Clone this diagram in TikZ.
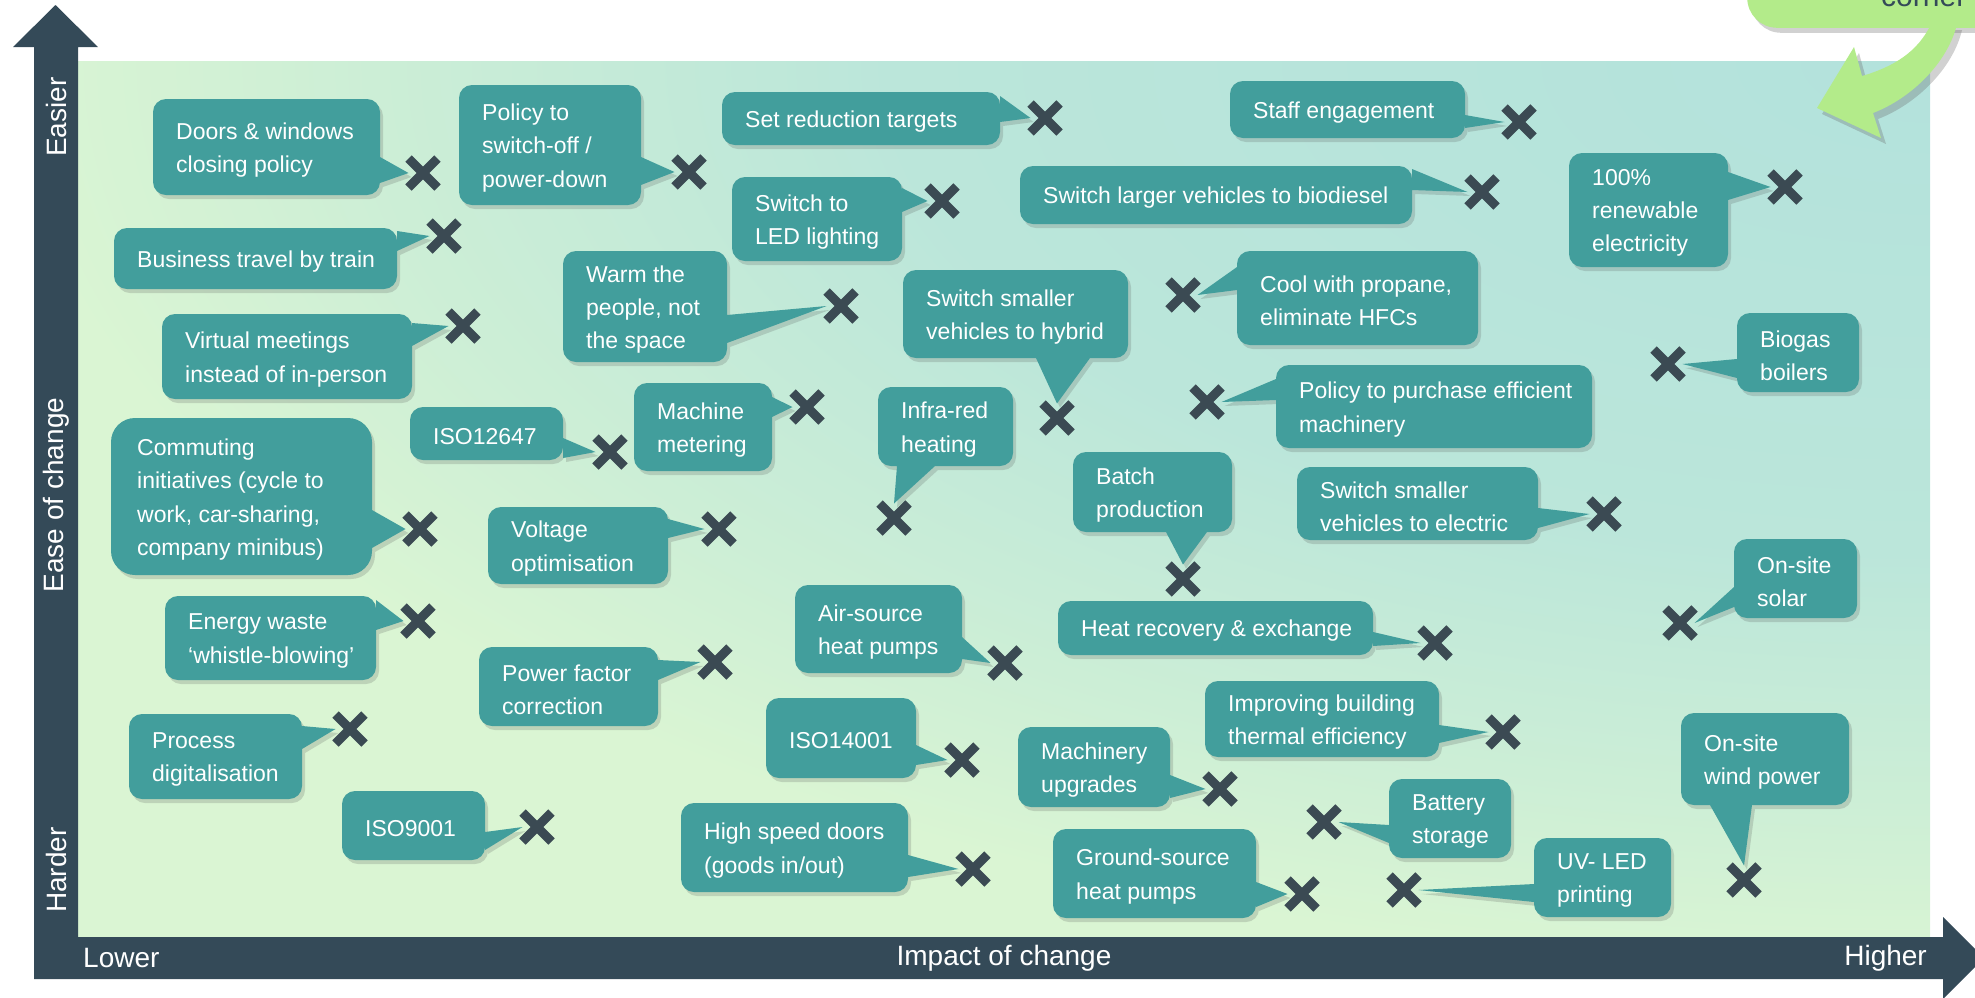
\documentclass[tikz,border=0pt]{standalone}
\usepackage{fontspec}
\setmainfont{Liberation Sans}
\usetikzlibrary{shapes.misc,shadows,backgrounds}
\definecolor{axiscol}{HTML}{344A58}
\definecolor{callcol}{HTML}{429E9C}
\definecolor{crosscol}{HTML}{3B4A53}
\definecolor{greencol}{HTML}{B3EB8A}
\definecolor{bgteal}{HTML}{B3E2DC}
\definecolor{bgmidA}{HTML}{BBE6DA}
\definecolor{bgmidB}{HTML}{CCEED6}
\definecolor{bggreen}{HTML}{DAF5D3}
\pgfdeclareradialshading{plotbg}{\pgfpointorigin}{%
  color(0bp)=(bgteal); color(14bp)=(bgmidA); color(21bp)=(bgmidB);
  color(26bp)=(bggreen); color(50bp)=(bggreen)}
\tikzstyle{callbox} = [rectangle, anchor=north west, inner sep=0pt, outer sep=0pt]
\tikzstyle{calltext} = [anchor=west, xshift=23pt, yshift=-3pt, inner sep=0pt,
    align=left, text=white, font=\fontsize{23}{33.3}\selectfont]
\tikzstyle{xmark} = [cross out, draw=crosscol, line width=9pt,
    minimum size=17pt, inner sep=0pt, outer sep=6pt]
\tikzstyle{bubble} = [fill=callcol, rounded corners=13pt,
    drop shadow={shadow xshift=3pt, shadow yshift=-4pt, opacity=.2, fill=black!70}]
\tikzstyle{axislabel} = [text=white, inner sep=0pt, font=\fontsize{28}{34}\selectfont]
\tikzstyle{cornerbox} = [rectangle, anchor=south west, fill=greencol, rounded corners=30pt,
    drop shadow={shadow xshift=4pt, shadow yshift=-5pt, opacity=.3, fill=black!60}]
\tikzstyle{greenarrow} = [fill=greencol,
    drop shadow={shadow xshift=5pt, shadow yshift=-6pt, opacity=.3, fill=black!60}]

\begin{document}
\begin{tikzpicture}[x=1pt, y=-1pt]
    \useasboundingbox (0,0) rectangle (1975,997);

    % Place nodes
    \node [callbox, minimum width=227pt, minimum height=96pt] (doors) at (153,99) {};
    \node [calltext] (doors-t) at (doors.west) {Doors \& windows\\closing policy};
    \node [xmark] (doorsx) at (423,173) {};

    \node [callbox, minimum width=182pt, minimum height=120pt] (offsw) at (459,85) {};
    \node [calltext] (offsw-t) at (offsw.west) {Policy to\\switch-off /\\power-down};
    \node [xmark] (offswx) at (689,172) {};

    \node [callbox, minimum width=278pt, minimum height=53pt] (targets) at (722,92) {};
    \node [calltext] (targets-t) at (targets.west) {Set reduction targets};
    \node [xmark] (targetsx) at (1045,118) {};

    \node [callbox, minimum width=235pt, minimum height=57pt] (staff) at (1230,81) {};
    \node [calltext] (staff-t) at (staff.west) {Staff engagement};
    \node [xmark] (staffx) at (1519,122) {};

    \node [callbox, minimum width=170pt, minimum height=84pt] (led) at (732,177) {};
    \node [calltext] (led-t) at (led.west) {Switch to\\LED lighting};
    \node [xmark] (ledx) at (942,201) {};

    \node [callbox, minimum width=392pt, minimum height=58pt] (biodiesel) at (1020,166) {};
    \node [calltext] (biodiesel-t) at (biodiesel.west) {Switch larger vehicles to biodiesel};
    \node [xmark] (biodieselx) at (1482,192) {};

    \node [callbox, minimum width=159pt, minimum height=114pt] (renew) at (1569,153) {};
    \node [calltext] (renew-t) at (renew.west) {100\%\\renewable\\electricity};
    \node [xmark] (renewx) at (1785,187) {};

    \node [callbox, minimum width=283pt, minimum height=61pt] (train) at (114,228) {};
    \node [calltext] (train-t) at (train.west) {Business travel by train};
    \node [xmark] (trainx) at (444,236) {};

    \node [callbox, minimum width=164pt, minimum height=111pt] (warm) at (563,251) {};
    \node [calltext] (warm-t) at (warm.west) {Warm the\\people, not\\the space};
    \node [xmark] (warmx) at (841,306) {};

    \node [callbox, minimum width=225pt, minimum height=88pt] (hybrid) at (903,270) {};
    \node [calltext] (hybrid-t) at (hybrid.west) {Switch smaller\\vehicles to hybrid};
    \node [xmark] (hybridx) at (1057,418) {};

    \node [callbox, minimum width=241pt, minimum height=94pt] (propane) at (1237,251) {};
    \node [calltext] (propane-t) at (propane.west) {Cool with propane,\\eliminate HFCs};
    \node [xmark] (propanex) at (1183,295) {};

    \node [callbox, minimum width=250pt, minimum height=85pt] (virtual) at (162,314) {};
    \node [calltext] (virtual-t) at (virtual.west) {Virtual meetings\\instead of in-person};
    \node [xmark] (virtualx) at (463,326) {};

    \node [callbox, minimum width=122pt, minimum height=79pt] (biogas) at (1737,313) {};
    \node [calltext] (biogas-t) at (biogas.west) {Biogas\\boilers};
    \node [xmark] (biogasx) at (1668,364) {};

    \node [callbox, minimum width=316pt, minimum height=83pt] (purchase) at (1276,365) {};
    \node [calltext] (purchase-t) at (purchase.west) {Policy to purchase efficient\\machinery};
    \node [xmark] (purchasex) at (1207,402) {};

    \node [callbox, minimum width=153pt, minimum height=53pt] (isoA) at (410,407) {};
    \node [calltext] (isoA-t) at (isoA.west) {ISO12647};
    \node [xmark] (isoAx) at (610,452) {};

    \node [callbox, minimum width=138pt, minimum height=88pt] (metering) at (634,383) {};
    \node [calltext] (metering-t) at (metering.west) {Machine\\metering};
    \node [xmark] (meteringx) at (807,407) {};

    \node [callbox, minimum width=135pt, minimum height=79pt] (infrared) at (878,387) {};
    \node [calltext] (infrared-t) at (infrared.west) {Infra-red\\heating};
    \node [xmark] (infraredx) at (894,518) {};

    \node [callbox, minimum width=261pt, minimum height=157pt] (commute) at (111,418) {};
    \node [calltext, xshift=3pt] (commute-t) at (commute.west) {Commuting\\initiatives (cycle to\\work, car-sharing,\\company minibus)};
    \node [xmark] (commutex) at (420,529) {};

    \node [callbox, minimum width=180pt, minimum height=77pt] (voltage) at (488,507) {};
    \node [calltext] (voltage-t) at (voltage.west) {Voltage\\optimisation};
    \node [xmark] (voltagex) at (719,529) {};

    \node [callbox, minimum width=159pt, minimum height=80pt] (batch) at (1073,452) {};
    \node [calltext] (batch-t) at (batch.west) {Batch\\production};
    \node [xmark] (batchx) at (1183,579) {};

    \node [callbox, minimum width=241pt, minimum height=73pt] (electric) at (1297,467) {};
    \node [calltext] (electric-t) at (electric.west) {Switch smaller\\vehicles to electric};
    \node [xmark] (electricx) at (1604,514) {};

    \node [callbox, minimum width=123pt, minimum height=79pt] (solar) at (1734,539) {};
    \node [calltext] (solar-t) at (solar.west) {On-site\\solar};
    \node [xmark] (solarx) at (1680,623) {};

    \node [callbox, minimum width=211pt, minimum height=84pt] (whistle) at (165,596) {};
    \node [calltext] (whistle-t) at (whistle.west) {Energy waste\\‘whistle-blowing’};
    \node [xmark] (whistlex) at (418,621) {};

    \node [callbox, minimum width=167pt, minimum height=88pt] (airsrc) at (795,585) {};
    \node [calltext] (airsrc-t) at (airsrc.west) {Air-source\\heat pumps};
    \node [xmark] (airsrcx) at (1005,663) {};

    \node [callbox, minimum width=315pt, minimum height=54pt] (heatrec) at (1058,601) {};
    \node [calltext] (heatrec-t) at (heatrec.west) {Heat recovery \& exchange};
    \node [xmark] (heatrecx) at (1435,643) {};

    \node [callbox, minimum width=179pt, minimum height=79pt] (pfc) at (479,647) {};
    \node [calltext] (pfc-t) at (pfc.west) {Power factor\\correction};
    \node [xmark] (pfcx) at (715,662) {};

    \node [callbox, minimum width=173pt, minimum height=85pt] (digital) at (129,714) {};
    \node [calltext] (digital-t) at (digital.west) {Process\\digitalisation};
    \node [xmark] (digitalx) at (350,729) {};

    \node [callbox, minimum width=150pt, minimum height=80pt] (isoB) at (766,698) {};
    \node [calltext] (isoB-t) at (isoB.west) {ISO14001};
    \node [xmark] (isoBx) at (962,760) {};

    \node [callbox, minimum width=234pt, minimum height=76pt] (thermal) at (1205,681) {};
    \node [calltext] (thermal-t) at (thermal.west) {Improving building\\thermal efficiency};
    \node [xmark] (thermalx) at (1503,732) {};

    \node [callbox, minimum width=152pt, minimum height=80pt] (machinery) at (1018,727) {};
    \node [calltext] (machinery-t) at (machinery.west) {Machinery\\upgrades};
    \node [xmark] (machineryx) at (1220,789) {};

    \node [callbox, minimum width=168pt, minimum height=92pt] (wind) at (1681,713) {};
    \node [calltext] (wind-t) at (wind.west) {On-site\\wind power};
    \node [xmark] (windx) at (1744,880) {};

    \node [callbox, minimum width=143pt, minimum height=69pt] (isoC) at (342,791) {};
    \node [calltext] (isoC-t) at (isoC.west) {ISO9001};
    \node [xmark] (isoCx) at (537,827) {};

    \node [callbox, minimum width=227pt, minimum height=89pt] (hsdoors) at (681,803) {};
    \node [calltext] (hsdoors-t) at (hsdoors.west) {High speed doors\\(goods in/out)};
    \node [xmark] (hsdoorsx) at (973,869) {};

    \node [callbox, minimum width=122pt, minimum height=79pt] (battery) at (1389,779) {};
    \node [calltext] (battery-t) at (battery.west) {Battery\\storage};
    \node [xmark] (batteryx) at (1324,822) {};

    \node [callbox, minimum width=203pt, minimum height=89pt] (gshp) at (1053,829) {};
    \node [calltext] (gshp-t) at (gshp.west) {Ground-source\\heat pumps};
    \node [xmark] (gshpx) at (1302,894) {};

    \node [callbox, minimum width=137pt, minimum height=79pt] (uvled) at (1534,838) {};
    \node [calltext] (uvled-t) at (uvled.west) {UV- LED\\printing};
    \node [xmark] (uvledx) at (1404,890) {};

    % Axis labels
    \node [axislabel, rotate=90] (easier) at (56,117) {Easier};
    \node [axislabel, rotate=90] (ease) at (56,495) {Ease of change};
    \node [axislabel, rotate=90] (harder) at (56,870) {Harder};
    \node [axislabel, anchor=west] (lower) at (83,958) {Lower};
    \node [axislabel] (impact) at (1004,958) {Impact of change};
    \node [axislabel, anchor=east] (higher) at (1927,958) {Higher};
    \node [anchor=base west, inner sep=0pt, text=axiscol, font=\fontsize{30}{36}\selectfont] (corner-t) at (1881,6) {corner};

    \begin{scope}[on background layer]
    % Plot area and axes
    \begin{scope}
        \clip (78,61) rectangle (1930,937);
        \shade [shading=plotbg] (78,-815) rectangle (3782,937);
    \end{scope}
    \fill [axiscol] (34,979) -- (34,47) -- (13,47) -- (55.5,5) -- (98,47) -- (78,47)
        -- (78,937) -- (1943,937) -- (1943,917) -- (1984,958) -- (1943,999) -- (1943,979) -- cycle;

    % Corner note
    \node [cornerbox, minimum width=320pt, minimum height=120pt] (corner) at (1747,28) {};
    \path [greenarrow] (1931,24) .. controls (1918,52) and (1893,67) .. (1862,76) -- (1854,47)
        -- (1817,108) -- (1881,138) -- (1873,113) .. controls (1912,98) and (1948,62) .. (1957,24) -- cycle;

    % Draw callouts
    \path [bubble] (doors.south west) rectangle (doors.north east) [sharp corners]
        ([yshift=-84pt]doors.north east) -- (doorsx.west) -- ([yshift=-58pt]doors.north east) -- cycle;
    \path [bubble] (offsw.south west) rectangle (offsw.north east) [sharp corners]
        ([yshift=-100pt]offsw.north east) -- (offswx.west) -- ([yshift=-72pt]offsw.north east) -- cycle;
    \path [bubble] (targets.south west) rectangle (targets.north east) [sharp corners]
        ([yshift=-30pt]targets.north east) -- (targetsx.west) -- ([yshift=-4pt]targets.north east) -- cycle;
    \path [bubble] (staff.south west) rectangle (staff.north east) [sharp corners]
        ([yshift=-47pt]staff.north east) -- (staffx.west) -- ([yshift=-34pt]staff.north east) -- cycle;
    \path [bubble] (led.south west) rectangle (led.north east) [sharp corners]
        ([yshift=-35pt]led.north east) -- (ledx.west) -- ([yshift=-11pt]led.north east) -- cycle;
    \path [bubble] (biodiesel.south west) rectangle (biodiesel.north east) [sharp corners]
        ([yshift=-24pt]biodiesel.north east) -- (biodieselx.west) -- ([yshift=-3pt]biodiesel.north east) -- cycle;
    \path [bubble] (renew.south west) rectangle (renew.north east) [sharp corners]
        ([yshift=-47pt]renew.north east) -- (renewx.west) -- ([yshift=-19pt]renew.north east) -- cycle;
    \path [bubble] (train.south west) rectangle (train.north east) [sharp corners]
        ([yshift=-23pt]train.north east) -- (trainx.west) -- ([yshift=-3pt]train.north east) -- cycle;
    \path [bubble] (warm.south west) rectangle (warm.north east) [sharp corners]
        ([yshift=-92pt]warm.north east) -- (warmx.west) -- ([yshift=-64pt]warm.north east) -- cycle;
    \path [bubble] (hybrid.south west) rectangle (hybrid.north east) [sharp corners]
        ([xshift=133pt]hybrid.south west) -- (hybridx.north) -- ([xshift=187pt]hybrid.south west) -- cycle;
    \path [bubble] (propane.south west) rectangle (propane.north east) [sharp corners]
        ([yshift=-16pt]propane.north west) -- (propanex.east) -- ([yshift=-39pt]propane.north west) -- cycle;
    \path [bubble] (virtual.south west) rectangle (virtual.north east) [sharp corners]
        ([yshift=-32pt]virtual.north east) -- (virtualx.west) -- ([yshift=-9pt]virtual.north east) -- cycle;
    \path [bubble] (biogas.south west) rectangle (biogas.north east) [sharp corners]
        ([yshift=-46pt]biogas.north west) -- (biogasx.east) -- ([yshift=-65pt]biogas.north west) -- cycle;
    \path [bubble] (purchase.south west) rectangle (purchase.north east) [sharp corners]
        ([yshift=-14pt]purchase.north west) -- (purchasex.east) -- ([yshift=-35pt]purchase.north west) -- cycle;
    \path [bubble] (isoA.south west) rectangle (isoA.north east) [sharp corners]
        ([yshift=-51pt]isoA.north east) -- (isoAx.west) -- ([yshift=-31pt]isoA.north east) -- cycle;
    \path [bubble] (metering.south west) rectangle (metering.north east) [sharp corners]
        ([yshift=-34pt]metering.north east) -- (meteringx.west) -- ([yshift=-14pt]metering.north east) -- cycle;
    \path [bubble] (infrared.south west) rectangle (infrared.north east) [sharp corners]
        ([xshift=19pt]infrared.south west) -- (infraredx.north) -- ([xshift=57pt]infrared.south west) -- cycle;
    \path [bubble, rounded corners=24pt] (commute.south west) rectangle (commute.north east) [sharp corners]
        ([yshift=-130pt]commute.north east) -- (commutex.west) -- ([yshift=-92pt]commute.north east) -- cycle;
    \path [bubble] (voltage.south west) rectangle (voltage.north east) [sharp corners]
        ([yshift=-31pt]voltage.north east) -- (voltagex.west) -- ([yshift=-12pt]voltage.north east) -- cycle;
    \path [bubble] (batch.south west) rectangle (batch.north east) [sharp corners]
        ([xshift=93pt]batch.south west) -- (batchx.north) -- ([xshift=134pt]batch.south west) -- cycle;
    \path [bubble] (electric.south west) rectangle (electric.north east) [sharp corners]
        ([yshift=-61pt]electric.north east) -- (electricx.west) -- ([yshift=-41pt]electric.north east) -- cycle;
    \path [bubble] (solar.south west) rectangle (solar.north east) [sharp corners]
        ([yshift=-48pt]solar.north west) -- (solarx.east) -- ([yshift=-68pt]solar.north west) -- cycle;
    \path [bubble] (whistle.south west) rectangle (whistle.north east) [sharp corners]
        ([yshift=-34pt]whistle.north east) -- (whistlex.west) -- ([yshift=-4pt]whistle.north east) -- cycle;
    \path [bubble] (airsrc.south west) rectangle (airsrc.north east) [sharp corners]
        ([yshift=-74pt]airsrc.north east) -- (airsrcx.west) -- ([yshift=-52pt]airsrc.north east) -- cycle;
    \path [bubble] (heatrec.south west) rectangle (heatrec.north east) [sharp corners]
        ([yshift=-45pt]heatrec.north east) -- (heatrecx.west) -- ([yshift=-31pt]heatrec.north east) -- cycle;
    \path [bubble] (pfc.south west) rectangle (pfc.north east) [sharp corners]
        ([yshift=-33pt]pfc.north east) -- (pfcx.west) -- ([yshift=-13pt]pfc.north east) -- cycle;
    \path [bubble] (digital.south west) rectangle (digital.north east) [sharp corners]
        ([yshift=-35pt]digital.north east) -- (digitalx.west) -- ([yshift=-12pt]digital.north east) -- cycle;
    \path [bubble] (isoB.south west) rectangle (isoB.north east) [sharp corners]
        ([yshift=-67pt]isoB.north east) -- (isoBx.west) -- ([yshift=-47pt]isoB.north east) -- cycle;
    \path [bubble] (thermal.south west) rectangle (thermal.north east) [sharp corners]
        ([yshift=-62pt]thermal.north east) -- (thermalx.west) -- ([yshift=-44pt]thermal.north east) -- cycle;
    \path [bubble] (machinery.south west) rectangle (machinery.north east) [sharp corners]
        ([yshift=-71pt]machinery.north east) -- (machineryx.west) -- ([yshift=-48pt]machinery.north east) -- cycle;
    \path [bubble] (wind.south west) rectangle (wind.north east) [sharp corners]
        ([xshift=29pt]wind.south west) -- (windx.north) -- ([xshift=71pt]wind.south west) -- cycle;
    \path [bubble] (isoC.south west) rectangle (isoC.north east) [sharp corners]
        ([yshift=-59pt]isoC.north east) -- (isoCx.west) -- ([yshift=-41pt]isoC.north east) -- cycle;
    \path [bubble] (hsdoors.south west) rectangle (hsdoors.north east) [sharp corners]
        ([yshift=-74pt]hsdoors.north east) -- (hsdoorsx.west) -- ([yshift=-52pt]hsdoors.north east) -- cycle;
    \path [bubble] (battery.south west) rectangle (battery.north east) [sharp corners]
        ([yshift=-46pt]battery.north west) -- (batteryx.east) -- ([yshift=-64pt]battery.north west) -- cycle;
    \path [bubble] (gshp.south west) rectangle (gshp.north east) [sharp corners]
        ([yshift=-78pt]gshp.north east) -- (gshpx.west) -- ([yshift=-53pt]gshp.north east) -- cycle;
    \path [bubble] (uvled.south west) rectangle (uvled.north east) [sharp corners]
        ([yshift=-46pt]uvled.north west) -- (uvledx.east) -- ([yshift=-64pt]uvled.north west) -- cycle;
    \end{scope}

\end{tikzpicture}
\end{document}
